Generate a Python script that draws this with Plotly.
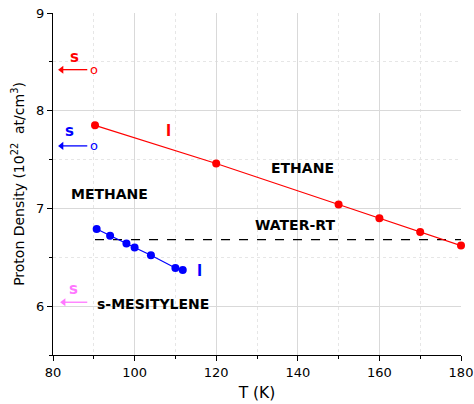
import plotly.graph_objects as go

# Ethane (red)
eth_T = [90.3, 120.0, 150.0, 160.0, 170.0, 180.0]
eth_rho = [7.85, 7.46, 7.04, 6.90, 6.76, 6.62]
# Methane liquid (blue)
met_T = [90.7, 94.0, 98.0, 100.0, 104.0, 110.0, 111.8]
met_rho = [6.79, 6.72, 6.64, 6.60, 6.52, 6.39, 6.37]
# Water at room temperature (reference)
water_T = [90.3, 180.0]
water_rho = [6.68, 6.68]

# Solid densities (arrows)
solid_rho = {"ethane": 8.42, "methane": 7.64, "mesitylene": 6.04}

FONT = "DejaVu Sans"

fig = go.Figure()
fig.add_trace(go.Scatter(x=water_T, y=water_rho, mode="lines",
                         line=dict(color="black", width=1.2, dash="dash"), showlegend=False))
fig.add_trace(go.Scatter(x=eth_T, y=eth_rho, mode="lines+markers",
                         line=dict(color="#ff0000", width=1.2),
                         marker=dict(color="#ff0000", size=8), showlegend=False,
                         cliponaxis=False))
fig.add_trace(go.Scatter(x=met_T, y=met_rho, mode="lines+markers",
                         line=dict(color="#0000ff", width=1.2),
                         marker=dict(color="#0000ff", size=8), showlegend=False))

# arrows pointing to the solid densities
arrow_specs = [("ethane", "#ff0000", 81.5, 88.4), ("methane", "#0000ff", 81.5, 88.4),
               ("mesitylene", "#ff77ff", 82.0, 88.4)]
for key, col, xh, xt in arrow_specs:
    y = solid_rho[key]
    fig.add_trace(go.Scatter(x=[xt, xh + 0.8], y=[y, y], mode="lines",
                             line=dict(color=col, width=1.3), showlegend=False,
                             hoverinfo="skip"))
    fig.add_trace(go.Scatter(x=[xh + 0.6], y=[y], mode="markers",
                             marker=dict(symbol="triangle-left", color=col, size=7),
                             showlegend=False, hoverinfo="skip"))

ann = []
labels = [
    (90.1, 8.42, "o", "#ff0000", False, 13),
    (90.1, 7.64, "o", "#0000ff", False, 13),
    (85.2, 8.55, "s", "#ff0000", True, 15),
    (84.0, 7.79, "s", "#0000ff", True, 15),
    (85.0, 6.18, "s", "#ff77ff", True, 15),
    (108.2, 7.79, "l", "#ff0000", True, 15),
    (115.8, 6.36, "l", "#0000ff", True, 15),
    (141.2, 7.41, "ETHANE", "black", True, 14),
    (93.8, 7.15, "METHANE", "black", True, 14),
    (139.3, 6.83, "WATER-RT", "black", True, 14),
    (104.4, 6.02, "s-MESITYLENE", "black", True, 14),
]
for x, y, t, col, bold, sz in labels:
    ann.append(dict(x=x, y=y, xref="x", yref="y", text=f"<b>{t}</b>" if bold else t,
                    showarrow=False, font=dict(color=col, size=sz, family=FONT)))

fig.update_layout(
    width=474, height=404,
    margin=dict(l=53, r=13, t=13, b=49),
    paper_bgcolor="white", plot_bgcolor="white",
    font=dict(family=FONT, size=13, color="black"),
    annotations=ann,
    xaxis=dict(range=[80, 180], tickvals=[80, 100, 120, 140, 160, 180], automargin=False,
               showline=True, linecolor="black", linewidth=1.2,
               ticks="outside", ticklen=5, tickcolor="black",
               showgrid=True, gridcolor="#d9d9d9", gridwidth=1.2, zeroline=False,
               minor=dict(dtick=10, ticks="outside", ticklen=3, tickcolor="black",
                          showgrid=True, gridcolor="#e6e6e6", griddash="dot", gridwidth=1),
               title=dict(text="T (K)", font=dict(size=15.5), standoff=8)),
    yaxis=dict(range=[5.5, 9], tickvals=[6, 7, 8, 9], automargin=False,
               showline=True, linecolor="black", linewidth=1.2,
               ticks="outside", ticklen=5, tickcolor="black",
               showgrid=True, gridcolor="#d9d9d9", gridwidth=1.2, zeroline=False,
               minor=dict(dtick=0.5, ticks="outside", ticklen=3, tickcolor="black",
                          showgrid=True, gridcolor="#e6e6e6", griddash="dot", gridwidth=1),
               title=dict(text="Proton Density (10<sup>22</sup>  at/cm<sup>3</sup>)",
                          font=dict(size=14), standoff=8)),
)

fig.write_html("out.html", config={"displayModeBar": False},
               post_script="document.body.style.margin='0';document.body.style.overflow='hidden';")
